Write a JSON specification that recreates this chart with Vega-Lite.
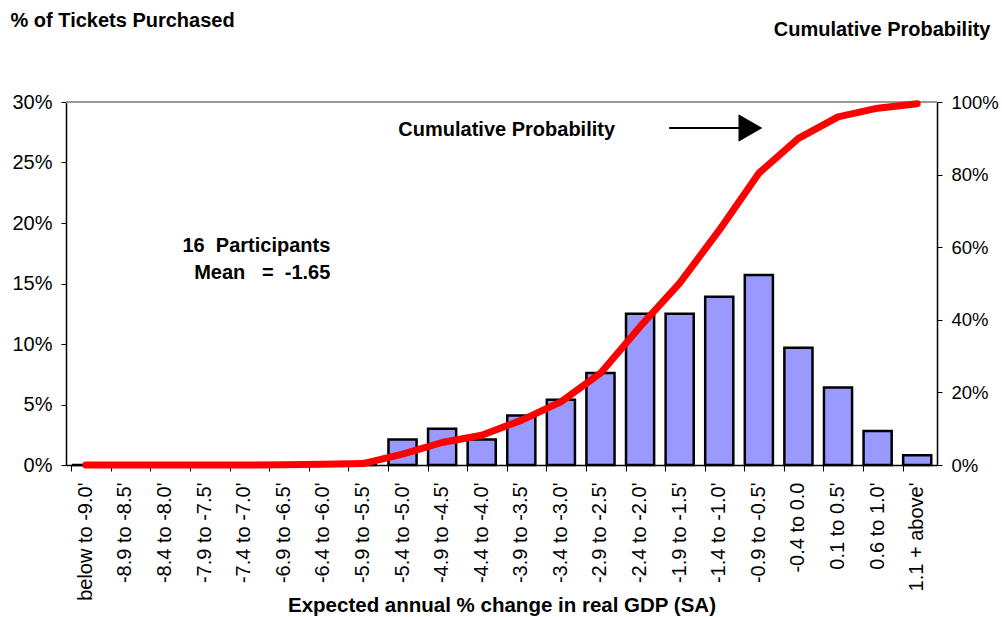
{
  "$schema": "https://vega.github.io/schema/vega-lite/v6.json",
  "width": 871,
  "height": 363,
  "autosize": "none",
  "padding": {"left": 66, "top": 102, "right": 65, "bottom": 152},
  "background": "white",
  "config": {
    "view": {"stroke": null},
    "font": "Liberation Sans",
    "axis": {"labelFont": "Liberation Sans", "titleFont": "Liberation Sans", "labelColor": "black", "titleColor": "black", "domainColor": "black", "tickColor": "black", "grid": false}
  },
  "data": {"values": [{"note": "annotation"}]},
  "datasets": {
    "bins": [
      {"range": "below to -9.0'", "pct": 0, "cum": 0},
      {"range": "-8.9 to -8.5'", "pct": 0, "cum": 0},
      {"range": "-8.4 to -8.0'", "pct": 0, "cum": 0},
      {"range": "-7.9 to -7.5'", "pct": 0, "cum": 0},
      {"range": "-7.4 to -7.0'", "pct": 0, "cum": 0},
      {"range": "-6.9 to -6.5'", "pct": 0, "cum": 0.001},
      {"range": "-6.4 to -6.0'", "pct": 0, "cum": 0.002},
      {"range": "-5.9 to -5.5'", "pct": 0, "cum": 0.004},
      {"range": "-5.4 to -5.0'", "pct": 0.021, "cum": 0.03},
      {"range": "-4.9 to -4.5'", "pct": 0.030, "cum": 0.062},
      {"range": "-4.4 to -4.0'", "pct": 0.021, "cum": 0.082},
      {"range": "-3.9 to -3.5'", "pct": 0.041, "cum": 0.123},
      {"range": "-3.4 to -3.0'", "pct": 0.054, "cum": 0.174},
      {"range": "-2.9 to -2.5'", "pct": 0.076, "cum": 0.253},
      {"range": "-2.4 to -2.0'", "pct": 0.125, "cum": 0.381},
      {"range": "-1.9 to -1.5'", "pct": 0.125, "cum": 0.501},
      {"range": "-1.4 to -1.0'", "pct": 0.139, "cum": 0.647},
      {"range": "-0.9 to -0.5'", "pct": 0.157, "cum": 0.804},
      {"range": "-0.4 to 0.0", "pct": 0.097, "cum": 0.90},
      {"range": "0.1 to 0.5'", "pct": 0.064, "cum": 0.959},
      {"range": "0.6 to 1.0'", "pct": 0.028, "cum": 0.983},
      {"range": "1.1 + above'", "pct": 0.008, "cum": 0.995}
    ]
  },
  "resolve": {"scale": {"y": "independent"}, "axis": {"x": "independent"}},
  "layer": [
    {
      "layer": [
        {
          "data": {"name": "bins"},
          "mark": {"type": "bar", "fill": "#9999FF", "stroke": "black", "strokeWidth": 2.5},
          "encoding": {
            "x": {
              "field": "range", "type": "nominal", "sort": null,
              "scale": {"type": "band", "paddingInner": 0.29, "paddingOuter": 0.145,
                "domain": ["below to -9.0'", "-8.9 to -8.5'", "-8.4 to -8.0'", "-7.9 to -7.5'", "-7.4 to -7.0'", "-6.9 to -6.5'", "-6.4 to -6.0'", "-5.9 to -5.5'", "-5.4 to -5.0'", "-4.9 to -4.5'", "-4.4 to -4.0'", "-3.9 to -3.5'", "-3.4 to -3.0'", "-2.9 to -2.5'", "-2.4 to -2.0'", "-1.9 to -1.5'", "-1.4 to -1.0'", "-0.9 to -0.5'", "-0.4 to 0.0", "0.1 to 0.5'", "0.6 to 1.0'", "1.1 + above'"]},
              "axis": {
                "orient": "bottom",
                "title": "Expected annual % change in real GDP (SA)",
                "titleFontSize": 20.5, "titleFontWeight": "bold", "titleY": 140, "titleBaseline": "middle",
                "labelAngle": -90, "labelFontSize": 20, "labelPadding": 17, "ticks": false, "tickSize": 0,
                "domain": true, "domainWidth": 1.5, "labelOverlap": false
              }
            },
            "y": {
              "field": "pct", "type": "quantitative",
              "scale": {"domain": [0, 0.3], "nice": false},
              "axis": {
                "values": [0, 0.05, 0.1, 0.15, 0.2, 0.25, 0.3], "format": ".0%",
                "labelFontSize": 20, "tickSize": 5, "labelPadding": 9, "domainWidth": 1.5,
                "title": "% of Tickets Purchased", "titleFontSize": 20, "titleFontWeight": "bold",
                "titleAngle": 0, "titleAlign": "left", "titleX": -56, "titleY": -82, "titleBaseline": "middle"
              }
            }
          }
        },
        {
          "mark": {"type": "rule", "stroke": "#999999", "strokeWidth": 2},
          "encoding": {"y": {"datum": 0.3}}
        },
        {
          "mark": {"type": "text", "text": "Cumulative Probability", "font": "Liberation Sans", "fontSize": 20, "fontWeight": "bold", "align": "center", "baseline": "middle", "dx": 25},
          "encoding": {"x": {"datum": "-4.4 to -4.0'"}, "y": {"datum": 0.277}}
        },
        {
          "mark": {"type": "text", "text": "16\u00a0\u00a0Participants", "font": "Liberation Sans", "fontSize": 20, "fontWeight": "bold", "align": "right", "baseline": "middle", "dx": 7},
          "encoding": {"x": {"datum": "-6.4 to -6.0'"}, "y": {"datum": 0.181}}
        },
        {
          "mark": {"type": "text", "text": "Mean\u00a0\u00a0\u00a0=\u00a0\u00a0-1.65", "font": "Liberation Sans", "fontSize": 20, "fontWeight": "bold", "align": "right", "baseline": "middle", "dx": 7},
          "encoding": {"x": {"datum": "-6.4 to -6.0'"}, "y": {"datum": 0.159}}
        },
        {
          "mark": {"type": "rule", "stroke": "black", "strokeWidth": 2},
          "encoding": {
            "x": {"datum": "-1.9 to -1.5'", "bandPosition": 0.125},
            "x2": {"datum": "-0.9 to -0.5'", "bandPosition": 0},
            "y": {"datum": 0.2785}
          }
        },
        {
          "mark": {"type": "point", "shape": "triangle-right", "filled": true, "color": "black", "opacity": 1, "size": 760},
          "encoding": {
            "x": {"datum": "-0.9 to -0.5'", "bandPosition": 0.2},
            "y": {"datum": 0.2785}
          }
        }
      ]
    },
    {
      "data": {"name": "bins"},
      "mark": {"type": "line", "color": "#FF0000", "strokeWidth": 7, "strokeCap": "round", "strokeJoin": "round"},
      "encoding": {
        "x": {
          "field": "range", "type": "nominal", "sort": null,
          "axis": {"orient": "bottom", "labels": false, "ticks": true, "tickSize": 6, "bandPosition": 0, "domain": false, "title": null, "tickColor": "black"}
        },
        "y": {
          "field": "cum", "type": "quantitative",
          "scale": {"domain": [0, 1], "nice": false},
          "axis": {
            "orient": "right", "values": [0, 0.2, 0.4, 0.6, 0.8, 1], "format": ".0%",
            "labelFontSize": 18.5, "tickSize": 5, "labelPadding": 9, "domainWidth": 1.5,
            "title": "Cumulative Probability", "titleFontSize": 20, "titleFontWeight": "bold",
            "titleAngle": 0, "titleAlign": "right", "titleX": 53, "titleY": -73, "titleBaseline": "middle"
          }
        }
      }
    }
  ]
}
